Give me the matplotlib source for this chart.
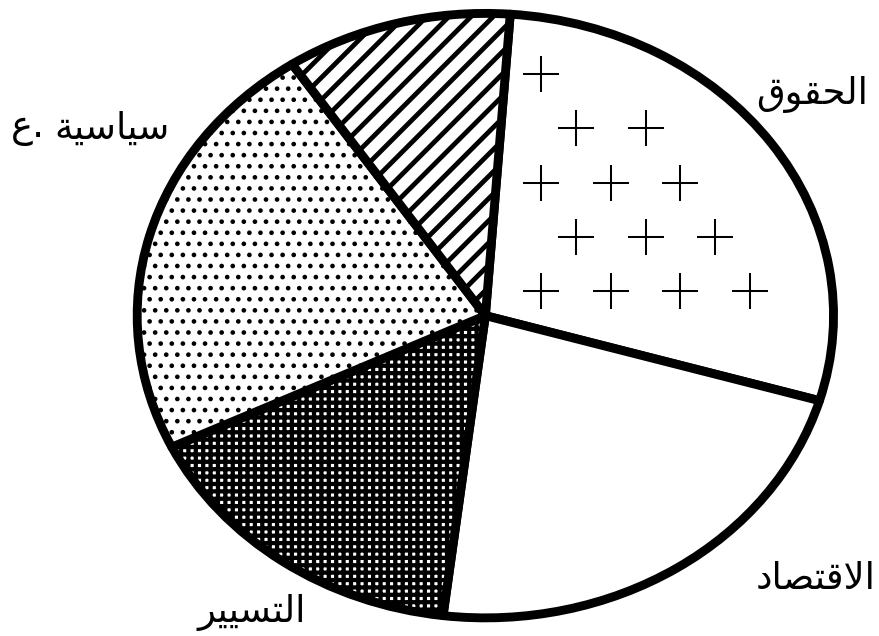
import re
import numpy as np
import matplotlib.pyplot as plt

# pie shares, clockwise from the top
labels = ['\u0627\u0644\u062D\u0642\u0648\u0642',                  # الحقوق
          '\u0627\u0644\u0627\u0642\u062A\u0635\u0627\u062F',      # الاقتصاد
          '\u0627\u0644\u062A\u0633\u064A\u064A\u0631',            # التسيير
          '\u0639. \u0633\u064A\u0627\u0633\u064A\u0629',          # ع. سياسية
          '']
shares = [28.4, 22.4, 15.9, 22.8, 10.5]
hatches = [None, None, '+++', '..', '//']
hatch_lw = [1.0, 1.0, 2.3, 1.3, 2.6]

# label centres in data units (layout only)
label_pos = [(0.937, 0.732), (0.948, -0.868), (-0.670, -0.980), (-1.135, 0.623), (0, 0)]

# Arabic presentation forms: isolated, final, initial, medial
FORMS = {
    '\u0627': ('\uFE8D', '\uFE8E', None, None),          # alef
    '\u062D': ('\uFEA1', '\uFEA2', '\uFEA3', '\uFEA4'),  # hah
    '\u0642': ('\uFED5', '\uFED6', '\uFED7', '\uFED8'),  # qaf
    '\u0648': ('\uFEED', '\uFEEE', None, None),          # waw
    '\u0644': ('\uFEDD', '\uFEDE', '\uFEDF', '\uFEE0'),  # lam
    '\u062A': ('\uFE95', '\uFE96', '\uFE97', '\uFE98'),  # teh
    '\u0635': ('\uFEB9', '\uFEBA', '\uFEBB', '\uFEBC'),  # sad
    '\u062F': ('\uFEA9', '\uFEAA', None, None),          # dal
    '\u0633': ('\uFEB1', '\uFEB2', '\uFEB3', '\uFEB4'),  # seen
    '\u064A': ('\uFEF1', '\uFEF2', '\uFEF3', '\uFEF4'),  # yeh
    '\u0631': ('\uFEAD', '\uFEAE', None, None),          # reh
    '\u0639': ('\uFEC9', '\uFECA', '\uFECB', '\uFECC'),  # ain
    '\u0629': ('\uFE93', '\uFE94', None, None),          # teh marbuta
}


def shape(s):
    # join letters and put one word in visual order
    out = []
    i = 0
    while i < len(s):
        c = s[i]
        if c not in FORMS:
            out.append(c)
            i += 1
            continue
        prev = s[i - 1] if i > 0 else ''
        joins_prev = prev in FORMS and FORMS[prev][2] is not None
        if c == '\u0644' and i + 1 < len(s) and s[i + 1] == '\u0627':
            out.append('\uFEFC' if joins_prev else '\uFEFB')
            i += 2
            continue
        nxt = s[i + 1] if i + 1 < len(s) else ''
        joins_next = nxt in FORMS and FORMS[c][2] is not None
        iso, fin, ini, med = FORMS[c]
        if joins_prev and joins_next:
            out.append(med)
        elif joins_prev:
            out.append(fin)
        elif joins_next:
            out.append(ini)
        else:
            out.append(iso)
        i += 1
    shaped = ''.join(out)
    return re.sub('[\uFE70-\uFEFF]+', lambda m: m.group(0)[::-1], shaped)


fig = plt.figure(figsize=(879.5 / 133, 636.5 / 133), dpi=133)
ax = fig.add_axes([0, 0, 1, 1])
wedges, _ = ax.pie(shares, startangle=85.9, counterclock=False,
                   wedgeprops=dict(facecolor='white', edgecolor='black',
                                   linewidth=4.8, joinstyle='round'))
ax.set_aspect('auto')
ax.set_xlim(-1.394, 1.132)
ax.set_ylim(-1.060, 1.046)
ax.axis('off')

for w, h, lw in zip(wedges, hatches, hatch_lw):
    if h:
        w.set_hatch(h)
    if hasattr(w, 'set_hatch_linewidth'):
        w.set_hatch_linewidth(lw)

# labels: each word is its own text so the words sit left to right as in the scan
for lab, (x, y) in zip(labels, label_pos):
    words = [shape(wd) for wd in lab.split(' ') if wd]
    if not words:
        continue
    parts = [ax.text(0, y, wd, fontsize=20, family='DejaVu Sans', ha='left', va='center')
             for wd in words]
    fig.canvas.draw()
    r = fig.canvas.get_renderer()
    gap = 10
    widths = [p.get_window_extent(r).width for p in parts]
    total = sum(widths) + gap * (len(parts) - 1)
    x0 = ax.transData.transform((x, y))[0] - total / 2
    inv = ax.transData.inverted()
    for p, wpx in zip(parts, widths):
        p.set_x(inv.transform((x0, 0))[0])
        x0 += wpx + gap

# scattered plus signs inside the first slice
w0 = wedges[0]
px, py = [], []
for k, y in enumerate(np.arange(0.80, 0.0, -0.18)):
    for x in np.arange(0.16 + 0.1 * (k % 2), 0.95, 0.2):
        rr = np.hypot(x, y)
        a = np.degrees(np.arctan2(y, x))
        if rr < 0.86 and w0.theta1 + 6 < a < w0.theta2 - 6 and x > 0.12:
            px.append(x)
            py.append(y)
ax.plot(px, py, '+', ms=19.5, mew=1.1, color='black')

fig.savefig('out.png', dpi=133, facecolor='white')
